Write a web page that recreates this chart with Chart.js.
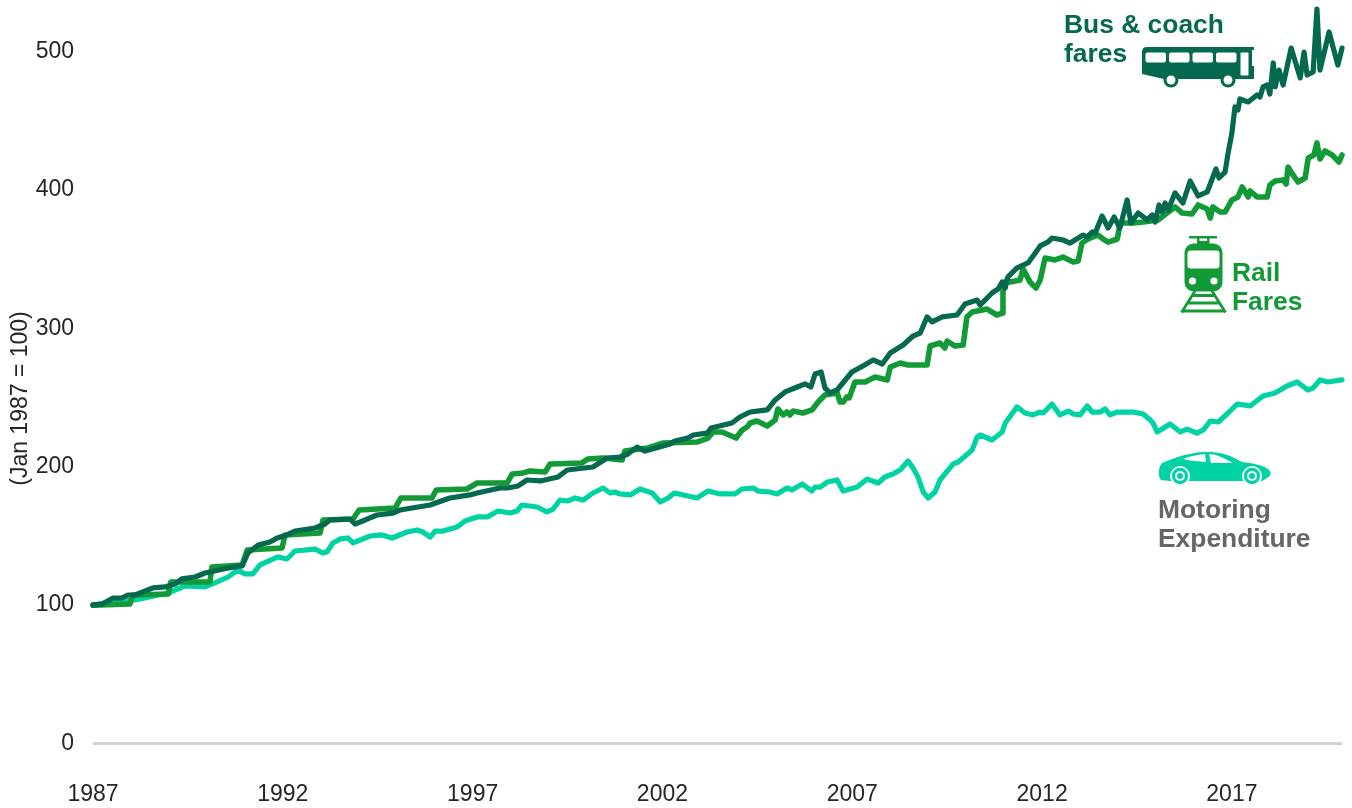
<!DOCTYPE html>
<html><head><meta charset="utf-8">
<script src="https://cdn.jsdelivr.net/npm/chart.js@4"></script>
<style>html,body{margin:0;padding:0;background:#fff}canvas{display:block}</style>
</head><body><canvas id="c" width="1352" height="808"></canvas>
<script>
const xTickYears=[1987,1992,1997,2002,2007,2012,2017];
const yTickValues=[0,100,200,300,400,500];
const motoringYears=[1987,1987.45,1988.11,1988.98,1989.16,1989.42,1989.95,1990.21,1990.56,1990.82,1991,1991.21,1991.4,1991.87,1992.11,1992.32,1992.85,1993.06,1993.16,1993.32,1993.51,1993.72,1993.85,1994.3,1994.61,1994.88,1995.27,1995.54,1995.69,1995.88,1996.01,1996.22,1996.59,1996.8,1997.12,1997.38,1997.67,1997.99,1998.17,1998.3,1998.7,1998.96,1999.12,1999.3,1999.51,1999.7,1999.91,2000.17,2000.44,2000.62,2000.75,2000.88,2001.15,2001.41,2001.73,2001.94,2002.15,2002.31,2002.91,2003.2,2003.52,2003.91,2004.1,2004.39,2004.52,2004.83,2005.02,2005.28,2005.41,2005.68,2005.94,2006.02,2006.15,2006.34,2006.6,2006.76,2007.13,2007.39,2007.68,2007.86,2008.07,2008.26,2008.47,2008.6,2008.73,2008.87,2009,2009.18,2009.31,2009.66,2009.79,2010.16,2010.29,2010.37,2010.68,2010.95,2011.03,2011.34,2011.55,2011.76,2011.95,2012.03,2012.26,2012.47,2012.69,2012.82,2013,2013.19,2013.32,2013.53,2013.66,2013.79,2013.98,2014.4,2014.66,2014.85,2014.92,2015.03,2015.37,2015.64,2015.82,2016.08,2016.24,2016.43,2016.64,2016.9,2017.14,2017.48,2017.82,2018.14,2018.45,2018.72,2019,2019.14,2019.32,2019.53,2019.9];
const motoringValues=[100,102.2,103.7,108.7,110.9,113.8,113.1,116,120.3,125.4,122.5,122.5,129,134.8,133.3,139.1,140.5,137.6,138.4,144.9,147.8,148.5,144.9,149.9,150.7,148.5,152.8,154.3,152.8,149.2,153.5,153.5,156.4,160.8,163.7,163.7,168,166.5,168,172.3,170.9,167.3,169.4,175.9,175.2,177.4,175.9,181,184.6,181,181.7,180.3,179.6,183.9,181,174.5,177.4,181,177.4,182.4,180.3,180.3,183.9,184.6,182.4,181.7,180.3,184.6,183.2,187.5,182.4,185.3,185.3,188.9,190.4,182.4,185.3,191.1,188.2,192.6,194.7,197.6,204.1,199.1,192.6,181.7,177.4,181.7,190.4,202,203.4,212.1,221.5,222.9,219.3,225.1,231.6,243.2,238.8,237.4,239.5,238.8,245.3,237.4,240.2,238.1,237.4,243.9,239.5,239.5,241.7,237.4,239.5,239.5,238.1,233.7,231.6,225.1,230.9,225.1,227.2,224.3,226.5,233,232.3,238.8,245.3,243.9,251.1,253.3,258.3,261.2,255.4,256.9,262.7,261.2,262.7];
const railYears=[1987,1987.97,1988.05,1988.98,1989.05,1990.08,1990.13,1990.93,1991.06,1991.98,1992.06,1992.98,1993.06,1993.85,1994.01,1994.96,1995.11,1995.93,1996.04,1996.85,1997.12,1997.91,1998.04,1998.33,1998.51,1998.91,1999.04,1999.88,2000.04,2000.44,2000.94,2001.01,2001.2,2001.62,2002.02,2002.91,2003.2,2003.33,2003.57,2003.94,2004.1,2004.23,2004.31,2004.49,2004.76,2004.97,2005.04,2005.18,2005.28,2005.36,2005.44,2005.7,2005.94,2006.1,2006.28,2006.6,2006.68,2006.76,2006.86,2006.92,2007.07,2007.34,2007.6,2007.92,2008,2008.26,2008.47,2008.97,2009.05,2009.31,2009.44,2009.5,2009.71,2009.92,2010.02,2010.16,2010.55,2010.81,2010.95,2010.97,2011.05,2011.16,2011.42,2011.5,2011.68,2011.84,2011.95,2012.08,2012.34,2012.55,2012.82,2012.95,2013.05,2013.21,2013.47,2013.61,2013.74,2013.98,2014.05,2014.13,2014.4,2014.66,2015.06,2015.29,2015.5,2015.69,2015.95,2016.11,2016.35,2016.43,2016.5,2016.69,2016.82,2017,2017.16,2017.27,2017.43,2017.48,2017.66,2017.93,2018,2018.14,2018.35,2018.43,2018.48,2018.61,2018.74,2018.93,2019.01,2019.16,2019.24,2019.32,2019.45,2019.64,2019.82,2019.9];
const railValues=[100,100.8,107.3,108,116.7,116.7,127.5,129,139.8,141.3,150.7,152.1,161.5,162.2,168.7,170.2,177.4,177.4,183.2,183.9,188.2,188.2,194.7,195.5,196.9,196.2,201.9,202.7,205.6,206.3,204.8,211.3,212.1,213.5,217.1,217.8,220.7,225.1,225.1,220.7,226.5,228.7,231.6,233,229.4,233.7,241.7,237.4,239.5,237.4,240.2,238.8,241,246.7,251.8,253.3,246.7,246.7,250.4,249.7,261.2,261.2,264.8,262.7,272,274.9,273.5,273.5,287.2,289.4,285.8,290.8,287.2,287.9,308.2,311.8,313.9,309.6,311,327.7,334.2,333.5,334.9,342.8,333.5,329.1,334.9,350.8,349.4,351.5,347.9,348.6,361.6,364.5,367.4,364.5,362.3,364.5,374.6,376.1,376.1,376.8,378.3,383.3,387.7,383.3,382.6,389.1,386.2,379.7,387.7,384,384,392.7,394.9,402.1,394.9,399.2,394.9,394.9,403.5,406.4,407.2,404.3,416.5,410.8,405.7,408.6,423,425.2,433.9,422.3,428.1,425.2,420.2,425.2];
const busYears=[1987,1987.24,1987.53,1987.76,1987.92,1988.11,1988.58,1988.9,1989.16,1989.34,1989.69,1989.95,1990.08,1990.56,1990.93,1991.08,1991.35,1991.66,1991.85,1992.11,1992.32,1992.85,1993.11,1993.24,1993.77,1993.9,1994.17,1994.48,1994.9,1995.09,1995.88,1996.4,1996.93,1997.12,1997.72,1997.91,1998.2,1998.43,1998.78,1999.25,1999.49,2000.17,2000.54,2000.88,2001.09,2001.33,2001.54,2002.2,2002.33,2002.67,2002.81,2003.18,2003.28,2003.83,2004.04,2004.31,2004.76,2004.97,2005.23,2005.55,2005.76,2005.91,2006.02,2006.18,2006.28,2006.41,2006.6,2006.99,2007.28,2007.55,2007.79,2008,2008.34,2008.6,2008.79,2008.97,2009.1,2009.37,2009.76,2009.97,2010.29,2010.37,2010.68,2010.84,2010.95,2011.03,2011.1,2011.34,2011.63,2011.82,2011.95,2012.16,2012.26,2012.55,2012.74,2013.08,2013.19,2013.32,2013.4,2013.58,2013.74,2013.9,2014.05,2014.24,2014.34,2014.53,2014.77,2014.9,2014.98,2015.08,2015.16,2015.24,2015.32,2015.5,2015.71,2015.9,2016.11,2016.35,2016.58,2016.66,2016.82,2016.9,2017,2017.08,2017.16,2017.21,2017.43,2017.66,2017.74,2017.82,2017.93,2018,2018.09,2018.14,2018.24,2018.35,2018.56,2018.8,2018.9,2018.98,2019.14,2019.24,2019.32,2019.56,2019.79,2019.9];
const busValues=[100,100.8,105.1,105.1,107.3,107.3,112.4,113.1,115.2,118.9,120.3,123.2,123.9,126.8,128.3,137.6,143.4,145.6,148.5,150.7,153.5,155.7,158.6,161.5,162.2,158.6,161.5,165.1,166.5,168.7,172.3,177.4,179.6,181,184.6,184.6,186.1,190.4,189.7,192.6,197.6,199.8,206.3,207,209.2,214.2,211.3,216.4,218.6,220.7,222.9,224.3,228,231.6,235.9,239.5,241,248.2,254,257.6,259.8,257.6,267,268.4,256.9,253.3,255.4,268.4,272.8,277.1,274.2,282.2,287.9,294.4,296.6,308.2,304.6,308.2,309.6,317.6,320.4,316.8,325.5,328.4,333.5,329.1,337.1,343.6,347.2,354.4,359.5,362.4,365.2,363.8,361.6,367.4,366,369.6,368.9,381.1,372.5,380.4,372.5,392.7,376.1,383.3,378.3,381.9,376.8,389.1,384,390.5,385.5,397.8,390.5,406.4,395.6,398.5,415.1,408.6,412.9,426.7,441.1,459.9,457.7,465.7,463.5,468.6,467.1,474.4,475.8,469.3,491.7,474.4,486.6,475.8,502.5,480.9,499.6,483,485.2,530.7,486.6,514.1,490.2,502.5];

const BUS='#05694f',RAIL='#119a36',TEAL='#00d3a3',GREY='#666666',INK='#262626';
const FONT='"Liberation Sans", Arial, sans-serif';
const toPts=(xs,ys)=>xs.map((x,i)=>({x,y:ys[i]}));
const line=(label,xs,ys,color,w)=>({label,data:toPts(xs,ys),borderColor:color,backgroundColor:color,borderWidth:w,pointRadius:0,tension:0,borderCapStyle:'round',borderJoinStyle:'round',clip:false});

const overlay={id:'overlay',afterDatasetsDraw(chart){
  const c=chart.ctx;c.save();
  const text=(s,x,y,col,font)=>{c.font=font;c.fillStyle=col;c.textAlign='left';c.textBaseline='alphabetic';c.fillText(s,x,y);};
  const bold='bold 26.4px '+FONT;
  text('Bus & coach',1064,33,BUS,bold);
  text('fares',1064,62,BUS,bold);
  text('Rail',1232,281,RAIL,bold);
  text('Fares',1232,310,RAIL,bold);
  text('Motoring',1158,518,GREY,bold);
  text('Expenditure',1158,547,GREY,bold);
  // axis title
  c.save();c.translate(27,398.5);c.rotate(-Math.PI/2);c.font='23px '+FONT;c.fillStyle=INK;c.textAlign='center';c.textBaseline='alphabetic';c.fillText('(Jan 1987 = 100)',0,0);c.restore();
  const rr=(x,y,w,h,r,col)=>{c.fillStyle=col;c.beginPath();c.roundRect(x,y,w,h,r);c.fill();};
  const circ=(x,y,r,col)=>{c.fillStyle=col;c.beginPath();c.arc(x,y,r,0,Math.PI*2);c.fill();};
  // bus icon
  c.fillStyle=BUS;c.fill(new Path2D('M1147 47H1254V50H1252V66H1254V79H1164L1142 74V52Q1142 47 1147 47Z'));
  for(const x of [1145.5,1169,1192.5,1216])rr(x,52.5,20.5,10,2,'#fff');
  rr(1240.5,52.5,8,23,1,'#fff');
  circ(1171,80,7.5,BUS);circ(1228,80,7.5,BUS);circ(1171,80,4.5,'#fff');circ(1228,80,4.5,'#fff');
  // train icon
  rr(1189,236,28,2.5,0,RAIL);rr(1197,237,2.5,8,0,RAIL);rr(1207,237,2.5,8,0,RAIL);rr(1197,241,12,4,0,RAIL);
  rr(1184.5,243.5,38,48,9,RAIL);rr(1187.5,250.5,32,18,3,'#fff');circ(1192.5,281,3.6,'#fff');circ(1214,281,3.6,'#fff');
  c.strokeStyle=RAIL;c.lineWidth=2.8;c.beginPath();c.moveTo(1195,291);c.lineTo(1181.5,312.5);c.moveTo(1212,291);c.lineTo(1225.5,312.5);
  c.moveTo(1192,295.5);c.lineTo(1215,295.5);c.moveTo(1188,303);c.lineTo(1219,303);c.moveTo(1183,311);c.lineTo(1224,311);c.stroke();
  // car icon
  c.fillStyle=TEAL;c.fill(new Path2D('M1162 463C1172 459 1182 455 1192 453.5C1202 451.5 1214 451.5 1224 454C1232 456 1238 460 1242 462C1252 463 1262 465 1268 469C1272 472 1271 476 1267 478L1262 481H1170L1161 480Q1158 476 1159 470Q1160 465 1162 463Z'));
  c.fillStyle='#fff';c.fill(new Path2D('M1183 459C1190 456 1198 455 1205 454L1206 462C1198 461.5 1190 461 1183 459Z'));
  c.fill(new Path2D('M1209 454C1216 454 1224 458 1233 463L1211 463Z'));
  for(const x of [1180,1252]){circ(x,476,10,'#fff');circ(x,476,8.2,TEAL);circ(x,476,5,'#fff');circ(x,476,3,TEAL);}
  c.restore();
}};

new Chart(document.getElementById('c'),{
  type:'line',
  data:{datasets:[
    line('Bus & coach fares',busYears,busValues,BUS,5.2),
    line('Rail Fares',railYears,railValues,RAIL,5.6),
    line('Motoring Expenditure',motoringYears,motoringValues,TEAL,5.2)
  ]},
  plugins:[overlay],
  options:{
    responsive:false,animation:false,devicePixelRatio:1,
    layout:{padding:{top:0,right:10,bottom:0,left:0}},
    plugins:{legend:{display:false},title:{display:false},tooltip:{enabled:false}},
    scales:{
      x:{type:'linear',min:1987,max:2019.9,
        afterFit:s=>{s.height=64.5;s.paddingLeft=0;s.paddingRight=0;},
        afterBuildTicks:s=>{s.ticks=xTickYears.map(value=>({value}));},
        grid:{display:false,drawTicks:false},border:{display:false},
        ticks:{autoSkip:false,maxRotation:0,padding:37,color:INK,font:{family:FONT,size:23},callback:v=>String(v)}
      },
      y:{type:'linear',min:0,max:537.2,
        afterFit:s=>{s.width=93;s.paddingTop=0;s.paddingBottom=0;},
        afterBuildTicks:s=>{s.ticks=yTickValues.map(value=>({value}));},
        grid:{drawTicks:false,lineWidth:3,color:ctx=>ctx.tick&&ctx.tick.value===0?'#d2d2d2':'rgba(0,0,0,0)'},border:{display:false},
        ticks:{padding:19,color:INK,font:{family:FONT,size:23},callback:v=>String(v)}
      }
    }
  }
});
</script></body></html>
